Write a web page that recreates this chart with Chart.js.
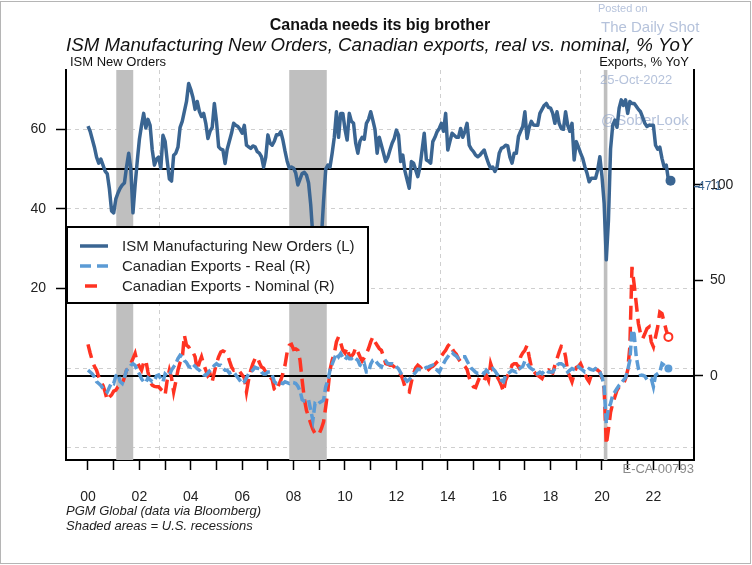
<!DOCTYPE html>
<html>
<head>
<meta charset="utf-8">
<script src="https://cdn.jsdelivr.net/npm/chart.js@4.4.0/dist/chart.umd.min.js"></script>
<style>
  html, body { margin: 0; padding: 0; background: #fff; }
  canvas { display: block; }
</style>
</head>
<body>
<canvas id="chart" width="752" height="565"></canvas>
<script>
// ISM Manufacturing New Orders (left axis), monthly Jan-2000 .. Sep-2022
const ismNewOrders = [
  60.8, 59.5, 57.5, 55.5, 53, 51.5, 52.5, 51, 49.5, 48.8, 45, 39.5,
  39, 42.5, 44, 45.2, 46, 46.5, 50.5, 54, 50, 39, 46, 52,
  57.5, 61, 64, 60.3, 62.5, 61, 54.8, 51, 52.5, 53, 50.2, 58.5,
  57, 52, 47.5, 47, 53.5, 54, 55.5, 60.5, 62, 64.5, 67, 71.5,
  70, 68, 65, 67, 64.5, 63.2, 64, 61.5, 57.7, 59.5, 60.5, 66.5,
  62, 55.6, 55, 54.8, 51.4, 55, 57, 59, 61.5, 61, 60.7, 60,
  59, 61, 56, 55.6, 55.2, 55.8, 55.6, 54.4, 54, 53.1, 50.5, 53,
  58.6, 56.5, 56, 57, 58.6, 58.6, 59.4, 57.3, 54.5, 52, 50.2, 50.5,
  50.2, 49, 46, 47.5, 48.9, 49.2, 48.5, 46.5, 41, 33, 27, 23,
  25, 33, 42, 50, 51, 50.5, 54, 58, 64.4, 58, 64, 64,
  60, 57.3, 64, 62, 61.5, 56.5, 54, 57, 58, 57.5, 61.5, 62.5,
  64.4, 62.3, 60, 54, 58, 56, 54, 51.9, 53, 54.8, 56.5, 57.7,
  59.8, 58.5, 51.9, 53.5, 49.5, 47.3, 45.2, 51.9, 51.5, 49.8, 48.1, 50.5,
  54.8, 59, 52.3, 52, 51.5, 56.9, 58, 59.4, 60.2, 61.5, 59.5, 64,
  54.8, 57, 59, 58.5, 58, 58, 60.2, 58, 59.5, 61.5, 56, 55,
  54.4, 53.5, 53.1, 53.5, 54.2, 54.8, 53, 51.4, 50.2, 50.5, 49.4, 50.5,
  54, 55.2, 55.5, 56, 55.8, 53, 51.5, 54, 54, 58.2, 59.5, 60.7,
  64.4, 57.7, 60.5, 62, 61.1, 61, 61, 64, 65, 66, 66.5, 65.5,
  65.3, 64, 61.5, 64.4, 61.5, 60.2, 60, 64.4, 61, 59.5, 61.5, 52.3,
  56.9, 55.5, 54, 52.7, 50.6, 49, 46.8, 47.7, 47.7, 47.7, 49.8, 53.1,
  48.1, 41.4, 27.2, 37, 55, 61, 62.3, 60.5, 65.3, 67.4, 66, 67.4,
  64, 67, 66.5, 66.5, 65.8, 65, 64.4, 63, 61.5, 60.7, 61, 61,
  61, 56, 55, 55.5, 52.7, 50.6, 51, 47.3, 47.1
];

// Canadian exports, % YoY (right axis), monthly Jan-2000 .. Aug-2022
const exportsReal = [
  3, 2, 1, -0.5, -3, -4, -5, -6.6, -7, -8.4, -6, -3.5,
  -4, 0, 1, -3, -4, -1, 3, 3.8, 5.5, 6.4, 5.5, 3,
  1, -1.5, -3, -3.5, -1, -2, -3, -2.5, 0, 0.5, -1.5, -3,
  1, 0, 0.5, 3, 4.7, 6.4, 9, 10.8, 10, 8, 7, 5,
  4.5, 6, 5, 3.8, 3, 1.5, 0.5, 0.3, 1.5, 3, 4, 5.5,
  6.4, 5.5, 5.5, 4, 3, 3, 1.5, 2, 2, 0.5, -1, -2.5,
  -4, -3, -1, 1, 2, 3, 4.5, 4, 3.8, 2, 1, 1,
  2, 2, 0.5, -3, -4, -3.5, -3.7, -4, -3.1, -3.5, -4, -3.3,
  -3.5, -4, -5.4, -7.8, -12.4, -13.2, -13.6, -12.7, -18, -23.2, -14.5, -15.2,
  -14.1, -13.4, -12.7, -5.7, -2.3, 3, 6.1, 9, 11.7, 10, 11.7, 9.6,
  8.5, 10, 9, 9, 10, 9, 8.2, 5.6, 5, 6.4, 2, 2,
  6.1, 8.2, 8.5, 6.8, 5.6, 4.7, 7.3, 7.8, 6.4, 6.4, 6.4, 6.1,
  4.7, 3.7, 1.6, 0.3, -1.4, -2.8, -1.9, -0.5, 0.7, 2, 3.5, 3.3,
  3.1, 3.8, 4.4, 4.7, 5.2, 5.6, 3.8, 3, 2, 4.4, 6.4, 8.5,
  10, 11.7, 12.2, 11.1, 10.3, 9.2, 10, 10, 10, 7.8, 5.7, 4,
  3, 1.9, 1.2, 1.7, 1.9, 1.2, 3, 2, 3, 3.8, 2.6, 0.9,
  -0.5, -2.3, -3.1, 0.3, 1.2, 2, 3, 2.4, 2, 3.5, 4.2, 5,
  7.8, 6.8, 4.7, 3.8, 3, 0.9, 1.2, 2, 1.2, 2.4, 3, 2,
  2, 2, 3.8, 5.6, 6.4, 6.4, 5.6, 3.8, 2, 3, 3.8, 3.3,
  3, 4.7, 3.8, 3, 2, 2.4, 3.8, 3.3, 3, 3.8, 3, 2,
  -0.5, -5.7, -24.9, -17, -14.5, -10, -8.4, -6.6, -4.9, -3.7, -2.3, -0.9,
  3, 8.2, 23.9, 22, 10, 3.8, 0.3, 0.3, -0.2, -1.9, -1.4, -1.4,
  -5.7, 0.3, 1.2, 2, 6.4, 5.6, 4.7, 3.8
];
const exportsNominal = [
  16.5, 12, 8, 5, 3, -0.5, -3, -5, -8.4, -12.7, -11, -10,
  -8, -7.5, -5.7, -5, -4, -1, 3, 4.7, 6.4, 9, 11.7, 7,
  5, 3, 7, 8.2, 2, -3, -4.9, -5.5, -5.7, -5.7, -7, -8,
  -10, -2, 3, -1, -8.4, -3, 3, 7, 9, 21.3, 16, 15.2,
  13, 12.5, 10, 3, 7, 10, 6, 3, 0, 1, -3, 2,
  6.4, 10, 12.5, 13, 12.5, 11.7, 8, 4.7, 3, 3.5, 3.5, 2,
  0.5, -1, -8.4, -2, 3, 6.4, 9, 10, 7, 4.7, 4, 2,
  0.5, -0.5, -2, -7, -8, -4.9, -2.3, 1.2, 5.6, 12.5, 16, 16.5,
  13.8, 14.1, 13.4, 8.2, -2.3, -11.8, -18, -21.4, -24.9, -28, -30.1, -31,
  -30.1, -27.5, -24, -16.2, -7.5, 3, 8.2, 11.7, 17.8, 20.4, 17.2, 13.4,
  12, 14.8, 10.3, 10.3, 11.7, 14.8, 12.5, 10, 7.8, 9.6, 11.7, 14.3,
  17.8, 20.4, 17.8, 16, 14.3, 13.4, 10, 6.4, 6.1, 5.6, 5.6, 4.7,
  3.8, 2, 0.9, -1.9, -5.7, -7.8, -8.4, -3.1, 1.2, 4.2, 5.6, 4.7,
  3.3, 3.8, 4.4, 3.3, 4.4, 5, 6.1, 7.3, 8.2, 10.3, 12, 13.4,
  15.5, 16.9, 14.3, 12.5, 11.3, 8.9, 7.3, 6.1, 5, 3.3, -0.9, -4,
  -5.7, -6.1, -3.1, -0.5, -1.4, -2.3, 0.3, -2.3, 6.4, 3, 1.2, -0.5,
  -2.3, -4.9, -8.4, -2.3, 0.3, 2, 5.6, 6.4, 6.4, 4.7, 10, 12,
  13.4, 16, 10, 4.7, 2.6, 1.2, 0.3, -0.5, -1.4, 1.2, 2.4, 3,
  2, 1.5, 5.6, 9, 12.5, 15.5, 15.2, 10, 2, -0.2, -3.1, 0.9,
  4.4, 5, 6.4, 3.8, 1.2, -1.4, -3.1, 0.3, 2, 3.5, 3, 2,
  -1.4, -6.6, -36, -28, -19, -14.5, -11, -7.5, -5.7, -5.2, -4.4, -1.4,
  3, 15, 57, 48, 37.8, 27.4, 22, 19.5, 22, 24.7, 25.6, 17.8,
  15.2, 20.4, 25.6, 33.4, 32.6, 28.2, 23.9, 20.4
];

// US recessions, decimal years
const recessionStart = [2001.10, 2007.83, 2020.07];
const recessionEnd = [2001.76, 2009.29, 2020.21];

const leftTicks = [-20, 0, 20, 40, 60];
const rightTicks = [0, 50, 100];
const startYear = 2000;

const C_ISM = '#3a6592';
const C_REAL = '#5b9bd5';
const C_NOM = '#ff3322';
const FONT = '"Liberation Sans", Arial, sans-serif';

Chart.defaults.font.family = FONT;
Chart.defaults.color = '#222';

const toPoints = arr => arr.map((v, i) => ({ x: startYear + i / 12, y: v }));
const lastDot = r => ctx => (ctx.dataIndex === ctx.dataset.data.length - 1 ? r : 0);

const overlay = {
  id: 'overlay',
  beforeDatasetsDraw(chart) {
    const { ctx, chartArea: a, scales } = chart;
    ctx.save();
    // recession shading
    ctx.fillStyle = '#bfbfbf';
    recessionStart.forEach((s, i) => {
      const x0 = scales.x.getPixelForValue(s);
      const x1 = scales.x.getPixelForValue(recessionEnd[i]);
      ctx.fillRect(x0, a.top, x1 - x0, a.bottom - a.top);
    });
    // watermark
    ctx.fillStyle = 'rgba(150,168,204,0.7)';
    ctx.textBaseline = 'middle';
    ctx.textAlign = 'left';
    ctx.font = '11px ' + FONT; ctx.fillText('Posted on', 598, 9);
    ctx.font = '15px ' + FONT; ctx.fillText('The Daily Shot', 601, 28);
    ctx.font = '13px ' + FONT; ctx.fillText('25-Oct-2022', 600, 80);
    ctx.font = '15px ' + FONT; ctx.fillText('@SoberLook', 601, 121);
    // 50 line (left) and 0 line (right)
    ctx.strokeStyle = '#000';
    ctx.lineWidth = 2;
    [[scales.y, 50], [scales.y1, 0]].forEach(([s, v]) => {
      const py = Math.round(s.getPixelForValue(v));
      ctx.beginPath();
      ctx.moveTo(a.left, py);
      ctx.lineTo(a.right, py);
      ctx.stroke();
    });
    ctx.restore();
  },
  afterDraw(chart) {
    const { ctx, chartArea: a, scales } = chart;
    ctx.save();
    ctx.textBaseline = 'middle';
    ctx.fillStyle = '#111';

    // titles
    ctx.textAlign = 'center';
    ctx.font = 'bold 16px ' + FONT;
    ctx.fillText('Canada needs its big brother', 380, 26);
    const sub = 'ISM Manufacturing New Orders, Canadian exports, real vs. nominal, % YoY';
    ctx.font = 'italic 16px ' + FONT;
    const fs = 16 * 627 / ctx.measureText(sub).width;
    ctx.font = 'italic ' + fs.toFixed(2) + 'px ' + FONT;
    ctx.textAlign = 'left';
    ctx.fillText(sub, 66, 46);

    // axis titles
    ctx.font = '13px ' + FONT;
    ctx.fillText('ISM New Orders', 70, 62);
    ctx.textAlign = 'right';
    ctx.fillText('Exports, % YoY', 689, 62);

    // chart code
    ctx.fillStyle = '#8a8a8a';
    ctx.fillText('E-CA-00793', 694, 469);

    // footnotes
    ctx.fillStyle = '#222';
    ctx.textAlign = 'left';
    ctx.font = 'italic 13px ' + FONT;
    ctx.fillText('PGM Global (data via Bloomberg)', 66, 511);
    ctx.fillText('Shaded areas = U.S. recessions', 66, 526);

    // last ISM value label
    const last = ismNewOrders[ismNewOrders.length - 1];
    const ly = scales.y.getPixelForValue(last) + 6;
    ctx.strokeStyle = C_ISM;
    ctx.lineWidth = 1.5;
    ctx.beginPath(); ctx.moveTo(a.right, ly); ctx.lineTo(a.right + 5, ly); ctx.stroke();
    ctx.fillStyle = C_ISM;
    ctx.font = '12px ' + FONT;
    ctx.fillText(String(last), a.right + 4, ly);

    // legend box
    const lx = 67, ltop = 227, lw = 301, lh = 76;
    ctx.fillStyle = '#fff';
    ctx.fillRect(lx, ltop, lw, lh);
    ctx.strokeStyle = '#000';
    ctx.lineWidth = 2;
    ctx.strokeRect(lx, ltop, lw, lh);
    const items = [
      { label: 'ISM Manufacturing New Orders (L)', color: C_ISM, dash: [], x0: 80, x1: 108 },
      { label: 'Canadian Exports - Real (R)', color: C_REAL, dash: [11, 6], x0: 80, x1: 108 },
      { label: 'Canadian Exports - Nominal (R)', color: C_NOM, dash: [], x0: 85, x1: 97 }
    ];
    ctx.font = '15px ' + FONT;
    items.forEach((it, i) => {
      const y = 246 + i * 20;
      ctx.strokeStyle = it.color;
      ctx.lineWidth = 3.5;
      ctx.setLineDash(it.dash);
      ctx.beginPath(); ctx.moveTo(it.x0, y); ctx.lineTo(it.x1, y); ctx.stroke();
      ctx.setLineDash([]);
      ctx.fillStyle = '#222';
      ctx.fillText(it.label, 122, y + 1);
    });

    // outer frame
    ctx.strokeStyle = '#b5b5b5';
    ctx.lineWidth = 1;
    ctx.strokeRect(0.5, 1.5, 750, 562);
    ctx.restore();
  }
};

new Chart(document.getElementById('chart'), {
  type: 'line',
  data: {
    datasets: [
      {
        label: 'ISM Manufacturing New Orders (L)',
        data: toPoints(ismNewOrders),
        yAxisID: 'y',
        borderColor: C_ISM,
        borderWidth: 3.5,
        borderJoinStyle: 'round',
        pointRadius: lastDot(5),
        pointBackgroundColor: C_ISM,
        pointBorderWidth: 0
      },
      {
        label: 'Canadian Exports - Real (R)',
        data: toPoints(exportsReal),
        yAxisID: 'y1',
        borderColor: C_REAL,
        borderWidth: 3.5,
        borderDash: [10, 4],
        pointRadius: lastDot(4),
        pointBackgroundColor: C_REAL,
        pointBorderWidth: 0
      },
      {
        label: 'Canadian Exports - Nominal (R)',
        data: toPoints(exportsNominal),
        yAxisID: 'y1',
        borderColor: C_NOM,
        borderWidth: 3.5,
        borderDash: [14, 7],
        pointRadius: lastDot(4),
        pointBackgroundColor: '#fff',
        pointBorderColor: C_NOM,
        pointBorderWidth: 2
      }
    ]
  },
  options: {
    responsive: false,
    animation: false,
    events: [],
    layout: { padding: { top: 70, left: 0, right: 0, bottom: 0 } },
    plugins: { legend: { display: false }, tooltip: { enabled: false }, title: { display: false } },
    scales: {
      x: {
        type: 'linear',
        position: 'bottom',
        min: 1999.144,
        max: 2023.58,
        afterFit: s => { s.height = 105; },
        afterBuildTicks: s => {
          const t = [];
          for (let yr = Math.ceil(s.min); yr <= s.max; yr++) t.push({ value: yr });
          s.ticks = t;
        },
        grid: { drawOnChartArea: false, tickLength: 10, tickColor: '#000', tickWidth: 1.5 },
        border: { color: '#000', width: 2 },
        ticks: {
          autoSkip: false,
          maxRotation: 0,
          padding: 19,
          font: { size: 14 },
          color: '#222',
          callback: v => (v % 2 === 0 ? String(v).slice(2) : '')
        }
      },
      xg: {
        type: 'linear',
        position: 'bottom',
        min: 1999.144,
        max: 2023.58,
        afterFit: s => { s.height = 0; },
        afterBuildTicks: s => { s.ticks = [2002.79, 2008.24, 2013.70, 2019.15].map(v => ({ value: v })); },
        grid: { color: '#cfcfcf', lineWidth: 1, drawTicks: false },
        border: { display: false, dash: [4, 4] },
        ticks: { display: false }
      },
      y: {
        position: 'left',
        min: -23.1,
        max: 74.9,
        afterFit: s => { s.width = 66; },
        afterBuildTicks: s => { s.ticks = leftTicks.map(v => ({ value: v })); },
        grid: {
          color: '#cfcfcf',
          lineWidth: 1,
          tickLength: 10,
          tickWidth: 1.5,
          tickColor: c => (c.tick && c.tick.value >= 20 ? '#000' : 'rgba(0,0,0,0)')
        },
        border: { color: '#000', width: 2, dash: [4, 4] },
        ticks: {
          padding: 10,
          font: { size: 14 },
          color: '#222',
          callback: v => (v >= 20 ? String(v) : '')
        }
      },
      y1: {
        position: 'right',
        min: -44,
        max: 160,
        afterFit: s => { s.width = 58; },
        afterBuildTicks: s => { s.ticks = rightTicks.map(v => ({ value: v })); },
        grid: { drawOnChartArea: false, tickLength: 9, tickWidth: 1.5, tickColor: '#000' },
        border: { color: '#000', width: 2 },
        ticks: { padding: 7, font: { size: 14 }, color: '#222' }
      }
    }
  },
  plugins: [overlay]
});
</script>
</body>
</html>
